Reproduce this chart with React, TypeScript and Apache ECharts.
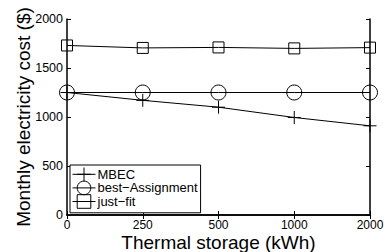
import React, { useEffect, useRef } from "react";
import * as echarts from "echarts";

const categories = ["0", "250", "500", "1000", "2000"];
const mbec = [1250, 1170, 1100, 995, 910];
const bestAssignment = [1250, 1250, 1250, 1250, 1250];
const justFit = [1730, 1705, 1710, 1700, 1708];
const seriesNames = ["MBEC", "best−Assignment", "just−fit"];

const FONT = "Liberation Sans, Arial, sans-serif";
const PLUS = "path://M0,5 L10,5 M5,0 L5,10";

export default function App() {
  const ref = useRef<HTMLDivElement>(null);
  useEffect(() => {
    if (!ref.current) return;
    const chart = echarts.init(ref.current, undefined, { renderer: "svg" });
    const lineStyle = { color: "#000", width: 1 };
    const axisCommon = {
      axisLine: { show: true, lineStyle: { color: "#000", width: 1.5 } },
      splitLine: { show: false },
    };
    const tick = { show: true, inside: true, length: 4, lineStyle: { color: "#000", width: 1 } };
    const markerStyle = { color: "transparent", borderColor: "#000", borderWidth: 1 };
    chart.setOption({
      animation: false,
      backgroundColor: "#fff",
      textStyle: { fontFamily: FONT },
      grid: { left: 67, right: 17, top: 19, bottom: 37, containLabel: false, outerBoundsMode: "none" },
      legend: {
        left: 70,
        top: 165,
        orient: "vertical",
        backgroundColor: "#fff",
        borderColor: "#000",
        borderWidth: 1,
        borderRadius: 0,
        padding: [2, 3, 4, 2],
        itemGap: -1,
        itemWidth: 23,
        itemHeight: 17,
        itemStyle: { borderWidth: 1 },
        lineStyle: { width: 1 },
        textStyle: { fontFamily: FONT, fontSize: 13, color: "#000", padding: [0, 0, 0, -3] },
        data: seriesNames,
      },
      xAxis: [
        {
          type: "category",
          data: categories,
          boundaryGap: false,
          ...axisCommon,
          axisTick: tick,
          axisLabel: { color: "#000", fontSize: 12, fontFamily: FONT, margin: 4 },
          name: "Thermal storage (kWh)",
          nameLocation: "middle",
          nameGap: 18,
          nameMoveOverlap: false,
          nameTextStyle: { color: "#000", fontSize: 19, fontFamily: FONT },
        },
        {
          type: "category",
          data: categories,
          boundaryGap: false,
          position: "top",
          ...axisCommon,
          axisTick: tick,
          axisLabel: { show: false },
        },
      ],
      yAxis: [
        {
          type: "value",
          min: 0,
          max: 2000,
          interval: 500,
          ...axisCommon,
          axisTick: tick,
          axisLabel: {
            color: "#000",
            fontSize: 12.5,
            fontFamily: FONT,
            margin: 4,
            formatter: (v: number) => String(v),
          },
          name: "Monthly electricity cost ($)",
          nameLocation: "middle",
          nameGap: 34,
          nameMoveOverlap: false,
          nameTextStyle: { color: "#000", fontSize: 19, fontFamily: FONT },
        },
        {
          type: "value",
          min: 0,
          max: 2000,
          interval: 500,
          position: "right",
          ...axisCommon,
          axisTick: tick,
          axisLabel: { show: false },
        },
      ],
      series: [
        {
          name: seriesNames[0],
          type: "line",
          data: mbec,
          symbol: PLUS,
          symbolSize: 13,
          lineStyle,
          itemStyle: markerStyle,
        },
        {
          name: seriesNames[1],
          type: "line",
          data: bestAssignment,
          symbol: "circle",
          symbolSize: 15,
          lineStyle,
          itemStyle: markerStyle,
        },
        {
          name: seriesNames[2],
          type: "line",
          data: justFit,
          symbol: "rect",
          symbolSize: 11,
          lineStyle,
          itemStyle: markerStyle,
        },
      ],
    });
    return () => chart.dispose();
  }, []);
  return <div ref={ref} style={{ width: 387, height: 252, position: "absolute", left: 0, top: 0 }} />;
}
